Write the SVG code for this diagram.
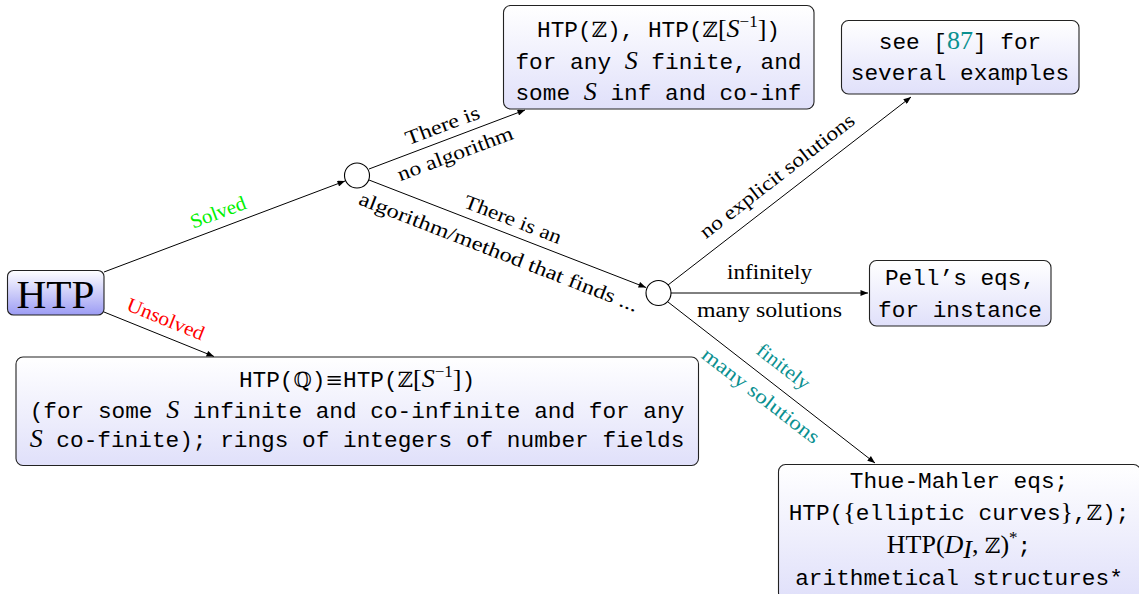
<svg xmlns="http://www.w3.org/2000/svg" width="1139" height="594" viewBox="0 0 1139 594">
<style>
.box{stroke:#222;stroke-width:1.1}
.edge{stroke:#000;stroke-width:1;fill:none}
.circ{fill:#fff;stroke:#000;stroke-width:1.1}
.lbl{font-family:"Liberation Serif","Times New Roman",serif;font-size:20px;fill:#000}
.mono{font-family:"Liberation Mono","Courier New",monospace;font-size:22.75px;fill:#000}
.bb{font-family:"DejaVu Serif",serif;font-size:21px}
.rm{font-family:"Liberation Serif",serif;font-size:26px}
.it{font-family:"Liberation Serif",serif;font-style:italic;font-size:26px}
.sup{font-family:"Liberation Serif",serif;font-size:17px}
.teal{fill:#0a9090}
</style>
<defs>
<linearGradient id="gHTP" x1="0" y1="0" x2="0" y2="1">
<stop offset="0" stop-color="#ffffff"/>
<stop offset="1" stop-color="#9c9cf4"/>
</linearGradient>
<linearGradient id="gBox" x1="0" y1="0" x2="0" y2="1">
<stop offset="0" stop-color="#ffffff"/>
<stop offset="1" stop-color="#e0e0fa"/>
</linearGradient>
<marker id="ah" viewBox="0 0 10 8" refX="10" refY="4" markerWidth="8.5" markerHeight="6" markerUnits="userSpaceOnUse" orient="auto">
<path d="M0,0 L10,4 L0,8 z" fill="#000"/>
</marker>
</defs>

<g id="connectors">
<line class="edge" x1="104" y1="272" x2="345" y2="181" marker-end="url(#ah)"/>
<line class="edge" x1="104" y1="312" x2="214" y2="356.5" marker-end="url(#ah)"/>
<line class="edge" x1="369" y1="169" x2="525" y2="110" marker-end="url(#ah)"/>
<line class="edge" x1="369" y1="180" x2="646" y2="287.5" marker-end="url(#ah)"/>
<line class="edge" x1="668" y1="285" x2="911" y2="97" marker-end="url(#ah)"/>
<line class="edge" x1="671" y1="293" x2="868" y2="293" marker-end="url(#ah)"/>
<line class="edge" x1="668" y1="302" x2="875" y2="463" marker-end="url(#ah)"/>

<g transform="translate(224.5,226.5) rotate(-20.7)"><text class="lbl" x="-1" y="-9" text-anchor="middle" fill="#00f000" style="fill:#00f000" textLength="58" lengthAdjust="spacingAndGlyphs">Solved</text></g>
<g transform="translate(158.5,334) rotate(22)"><text class="lbl" x="1" y="-10" text-anchor="middle" style="fill:#ff0000" textLength="82" lengthAdjust="spacingAndGlyphs">Unsolved</text></g>
<g transform="translate(447.5,139) rotate(-20.5)">
<text class="lbl" x="0" y="-8" text-anchor="middle" textLength="78" lengthAdjust="spacingAndGlyphs">There is</text>
<text class="lbl" x="2" y="23" text-anchor="middle" textLength="122" lengthAdjust="spacingAndGlyphs">no algorithm</text>
</g>
<g transform="translate(507.5,233.5) rotate(21.26)">
<text class="lbl" x="0" y="-8.5" text-anchor="middle" textLength="103" lengthAdjust="spacingAndGlyphs">There is an</text>
<text class="lbl" x="-1.5" y="27" text-anchor="middle" textLength="298" lengthAdjust="spacingAndGlyphs">algorithm/method that finds ...</text>
</g>
<g transform="translate(789.5,191) rotate(-37.73)">
<text class="lbl" x="-0.5" y="-13" text-anchor="middle" textLength="190" lengthAdjust="spacingAndGlyphs">no explicit solutions</text>
</g>
<text class="lbl" x="769.5" y="279" text-anchor="middle" textLength="85" lengthAdjust="spacingAndGlyphs">infinitely</text>
<text class="lbl" x="769.5" y="317" text-anchor="middle" textLength="145" lengthAdjust="spacingAndGlyphs">many solutions</text>
<g transform="translate(771.5,382) rotate(37.7)">
<text class="lbl teal" x="0" y="-13" text-anchor="middle" textLength="62" lengthAdjust="spacingAndGlyphs">finitely</text>
<text class="lbl teal" x="0" y="24" text-anchor="middle" textLength="143" lengthAdjust="spacingAndGlyphs">many solutions</text>
</g>
</g>

<g id="node-htp">
<rect class="box" x="7.5" y="270.5" width="96.5" height="44.5" rx="6" fill="url(#gHTP)"/>
<text x="55.5" y="307.5" text-anchor="middle" font-family="Liberation Serif, serif" font-size="40" textLength="78" lengthAdjust="spacingAndGlyphs">HTP</text>
</g>

<g id="node-c1">
<circle class="circ" cx="357" cy="175.5" r="12.5"/>
</g>

<g id="node-c2">
<circle class="circ" cx="658.5" cy="293" r="12.5"/>
</g>

<g id="node-noalg">
<rect class="box" x="503.5" y="5.5" width="310.5" height="103.5" rx="7" fill="url(#gBox)"/>
<text class="mono" x="658.5" y="37" text-anchor="middle">HTP(<tspan class="bb">ℤ</tspan>), HTP(<tspan class="bb">ℤ</tspan><tspan class="rm">[</tspan><tspan class="it">S</tspan><tspan class="sup" dy="-10">−1</tspan><tspan class="rm" dy="10">]</tspan>)</text>
<text class="mono" x="658.5" y="68.5" text-anchor="middle">for any <tspan class="it">S</tspan> finite, and</text>
<text class="mono" x="658.5" y="100" text-anchor="middle">some <tspan class="it">S</tspan> inf and co-inf</text>
</g>

<g id="node-see">
<rect class="box" x="841.5" y="20.5" width="237.5" height="73.5" rx="7" fill="url(#gBox)"/>
<text class="mono" x="960" y="48.5" text-anchor="middle">see [<tspan class="rm teal">87</tspan>] for</text>
<text class="mono" x="960" y="80" text-anchor="middle">several examples</text>
</g>

<g id="node-pell">
<rect class="box" x="869.5" y="260.5" width="181.5" height="65.5" rx="7" fill="url(#gBox)"/>
<text class="mono" x="960" y="284.5" text-anchor="middle">Pell’s eqs,</text>
<text class="mono" x="960" y="316.5" text-anchor="middle">for instance</text>
</g>

<g id="node-unsolved">
<rect class="box" x="16" y="357" width="682.5" height="108.5" rx="7" fill="url(#gBox)"/>
<text class="mono" x="357" y="387" text-anchor="middle">HTP(<tspan class="bb">ℚ</tspan>)<tspan class="bb">≡</tspan>HTP(<tspan class="bb">ℤ</tspan><tspan class="rm">[</tspan><tspan class="it">S</tspan><tspan class="sup" dy="-10">−1</tspan><tspan class="rm" dy="10">]</tspan>)</text>
<text class="mono" x="357" y="417.5" text-anchor="middle">(for some <tspan class="it">S</tspan> infinite and co-infinite and for any</text>
<text class="mono" x="357" y="447" text-anchor="middle"><tspan class="it">S</tspan> co-finite); rings of integers of number fields</text>
</g>

<g id="node-thue">
<rect class="box" x="778.5" y="464.5" width="362" height="135" rx="7" fill="url(#gBox)"/>
<text class="mono" x="959" y="488" text-anchor="middle">Thue-Mahler eqs;</text>
<text class="mono" x="959" y="520" text-anchor="middle">HTP(<tspan class="rm">{</tspan>elliptic curves<tspan class="rm">}</tspan>,<tspan class="bb">ℤ</tspan>);</text>
<text class="mono" x="959" y="553" text-anchor="middle"><tspan class="rm">HTP(</tspan><tspan class="it">D</tspan><tspan class="it" font-size="17" dy="5">I</tspan><tspan class="rm" dy="-5">, </tspan><tspan class="bb">ℤ</tspan><tspan class="rm">)</tspan><tspan class="sup" dy="-10">*</tspan><tspan dy="10">;</tspan></text>
<text class="mono" x="959" y="585" text-anchor="middle">arithmetical structures*</text>
</g>
</svg>
